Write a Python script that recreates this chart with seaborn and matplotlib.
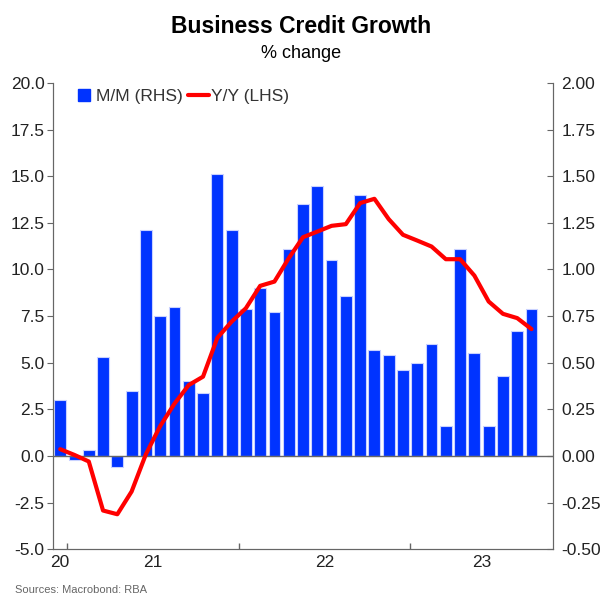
import numpy as np
import pandas as pd
import seaborn as sns
import matplotlib.pyplot as plt
from matplotlib.lines import Line2D

# monthly data, Dec 2020 - Sep 2023
months = pd.date_range('2020-12-01', periods=34, freq='MS')

# M/M % change (RHS)
mm = [0.30, -0.02, 0.03, 0.53, -0.06, 0.35, 1.21, 0.75, 0.80, 0.40,
      0.34, 1.51, 1.21, 0.79, 0.90, 0.77, 1.11, 1.35, 1.45, 1.05,
      0.86, 1.40, 0.57, 0.54, 0.46, 0.50, 0.60, 0.16, 1.11, 0.55,
      0.16, 0.43, 0.67, 0.79]

# Y/Y % change (LHS)
yy = [0.36, 0.05, -0.30, -2.93, -3.13, -1.91, 0.09, 1.6, 2.8, 3.8,
      4.25, 6.33, 7.2, 7.92, 9.12, 9.35, 10.6, 11.73, 12.03, 12.34,
      12.43, 13.56, 13.79, 12.7, 11.86, 11.55, 11.23, 10.55, 10.55, 9.67,
      8.28, 7.62, 7.39, 6.8]

year_labels = ['20', '21', '22', '23']

sns.set_style('white')
plt.rcParams['font.family'] = ['Liberation Sans', 'DejaVu Sans']

blue = '#0033ff'
red = '#ff0000'
grey = '#666666'

fig = plt.figure(figsize=(6.03, 5.93), dpi=100)
ax = fig.add_axes([0.088, 0.074, 0.829, 0.786])

df = pd.DataFrame({'pos': np.arange(len(mm)), 'mm': mm, 'yy': yy})

# bars on the right axis
sns.barplot(data=df, x='pos', y='mm', ax=ax, color=blue, saturation=1,
            width=0.83, edgecolor='#c9d2ff', linewidth=0.8)
ax.axhline(0, color=grey, lw=1, zorder=1)

# line on the left axis
ax2 = ax.twinx()
sns.lineplot(data=df, x='pos', y='yy', ax=ax2, color=red, lw=3)

ax.yaxis.tick_right()
ax.yaxis.set_label_position('right')
ax.set_ylim(-0.5, 2.0)
rt = np.arange(-0.5, 2.01, 0.25)
ax.set_yticks(rt)
ax.set_yticklabels([f'{v:.2f}' for v in rt])

ax2.yaxis.tick_left()
ax2.yaxis.set_label_position('left')
ax2.set_ylim(-5, 20)
lt = np.arange(-5, 20.1, 2.5)
ax2.set_yticks(lt)
ax2.set_yticklabels([f'{v:.1f}' for v in lt])

# one empty month slot after the last bar
for a in (ax, ax2):
    a.set_xlim(-0.5, len(mm) + 0.5)
    a.set_xlabel('')
    a.set_ylabel('')
    a.spines['top'].set_visible(False)
    for s in ('left', 'right', 'bottom'):
        a.spines[s].set_color(grey)

# year ticks at Jan boundaries, labels centred in each year
ax.set_xticks([0.5, 12.5, 24.5])
ax.set_xticklabels([])
ax.set_xticks([0.0, 6.5, 18.5, 29.5], minor=True)
ax.set_xticklabels(year_labels, minor=True)
ax.tick_params(axis='x', which='major', bottom=True, direction='in', length=4,
               width=1, color=grey)
ax.tick_params(axis='x', which='minor', bottom=True, length=0, labelsize=12.5,
               pad=4, colors='#222222')
ax.tick_params(axis='y', direction='in', length=4, color=grey, labelsize=12.5,
               labelcolor='#222222', pad=6)
ax2.tick_params(axis='y', direction='out', length=4, color=grey, labelsize=12.5,
                labelcolor='#222222', pad=2)

handles = [Line2D([], [], marker='s', ls='none', color=blue, markersize=8),
           Line2D([], [], color=red, lw=3)]
ax2.legend(handles, ['M/M (RHS)', 'Y/Y (LHS)'], loc='upper left', ncol=2,
           frameon=False, fontsize=12.5, handlelength=1.2, handletextpad=0.1,
           columnspacing=0.3, labelcolor='#333333',
           bbox_to_anchor=(0.01, 1.02))

fig.text(0.5, 0.945, 'Business Credit Growth', ha='center', fontsize=16.5,
         fontweight='bold', color='black')
fig.text(0.5, 0.902, '% change', ha='center', fontsize=13, color='black')
fig.text(0.025, 0.006, 'Sources: Macrobond; RBA', fontsize=8, color=grey,
         va='center')

fig.savefig('out.png', dpi=100)
